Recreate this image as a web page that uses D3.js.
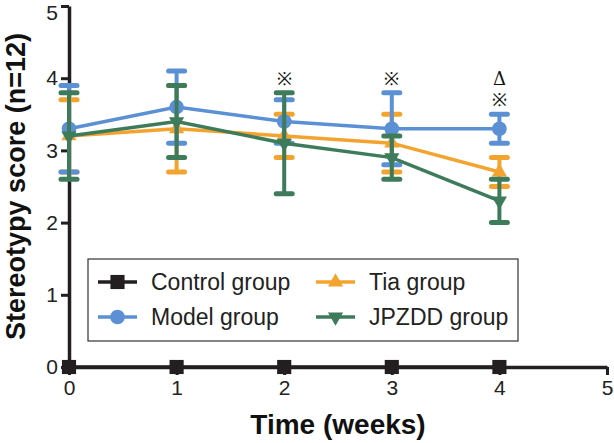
<!DOCTYPE html>
<html>
<head>
<meta charset="utf-8">
<script src="https://cdn.jsdelivr.net/npm/d3@7"></script>
<style>
  body { margin: 0; background: #fff; }
  svg { display: block; font-family: "Liberation Sans", Arial, sans-serif; }
</style>
</head>
<body>
<div id="chart"></div>
<script>
// data
const weeks = [0, 1, 2, 3, 4];
const controlMean = [0, 0, 0, 0, 0];
const modelMean = [3.3, 3.6, 3.4, 3.3, 3.3];
const modelSd = [0.6, 0.5, 0.3, 0.5, 0.2];
const tiaMean = [3.2, 3.3, 3.2, 3.1, 2.7];
const tiaSd = [0.5, 0.6, 0.3, 0.4, 0.2];
const jpzddMean = [3.2, 3.4, 3.1, 2.9, 2.3];
const jpzddSd = [0.6, 0.5, 0.7, 0.3, 0.3];
const xTicks = [0, 1, 2, 3, 4, 5];
const yTicks = [0, 1, 2, 3, 4, 5];
const marks = [
    { week: 2, y: 4.0, text: "※" },
    { week: 3, y: 4.0, text: "※" },
    { week: 4, y: 4.0, text: "Δ" },
    { week: 4, y: 3.7, text: "※" }
];

const width = 614;
const height = 443;
const marginLeft = 69;
const marginRight = 7;
const marginTop = 6;
const marginBottom = 76;

const x = d3.scaleLinear().domain([0, 5]).range([marginLeft, width - marginRight]);
const y = d3.scaleLinear().domain([0, 5]).range([height - marginBottom, marginTop]);

const svg = d3.select("#chart")
    .append("svg")
    .attr("width", width)
    .attr("height", height);

const series = [
    { name: "Control group", color: "#231f20", shape: "square", mean: controlMean, sd: null },
    { name: "Model group", color: "#5b91d4", shape: "circle", mean: modelMean, sd: modelSd },
    { name: "Tia group", color: "#f3a42f", shape: "up", mean: tiaMean, sd: tiaSd },
    { name: "JPZDD group", color: "#3e7b5b", shape: "down", mean: jpzddMean, sd: jpzddSd }
];

function symbolPath(shape) {
    if (shape === "square") return d3.symbol(d3.symbolSquare, 200)();
    if (shape === "circle") return d3.symbol(d3.symbolCircle, 170)();
    return d3.symbol(d3.symbolTriangle, 100)();
}

function drawMarker(g, s, cx, cy) {
    g.append("path")
        .attr("d", symbolPath(s.shape))
        .attr("transform", `translate(${cx},${cy})` + (s.shape === "down" ? " rotate(180)" : ""))
        .attr("fill", s.color);
}

// axes
const axisColor = "#231f20";
svg.append("g")
    .attr("transform", `translate(${marginLeft},0)`)
    .call(d3.axisLeft(y).tickValues(yTicks).tickFormat(d3.format("d")).tickSize(8).tickPadding(3).tickSizeOuter(0))
    .call(g => g.select(".domain").attr("stroke", axisColor).attr("stroke-width", 3.5))
    .call(g => g.selectAll(".tick line").attr("stroke", axisColor).attr("stroke-width", 3))
    .call(g => g.selectAll(".tick text").attr("fill", "#222").style("font-size", "21px"))
    // top label sits a little lower so it is not cut by the page edge
    .call(g => g.selectAll(".tick text").filter(d => d === 5).attr("dy", "0.62em"));

svg.append("g")
    .attr("transform", `translate(0,${y(0)})`)
    .call(d3.axisBottom(x).tickValues(xTicks).tickFormat(d3.format("d")).tickSize(8).tickPadding(5).tickSizeOuter(0))
    .call(g => g.select(".domain").attr("stroke", axisColor).attr("stroke-width", 3.5))
    .call(g => g.selectAll(".tick line").attr("stroke", axisColor).attr("stroke-width", 3))
    .call(g => g.selectAll(".tick text").attr("fill", "#222").style("font-size", "21px"));

// error bars, lines, markers (drawn back to front)
const line = d3.line().x((d, i) => x(weeks[i])).y(d => y(d));
const order = [series[2], series[1], series[3], series[0]];
order.forEach(s => {
    const g = svg.append("g");
    if (s.sd) {
        s.mean.forEach((m, i) => {
            const cx = x(weeks[i]);
            const lo = y(m - s.sd[i]);
            const hi = y(m + s.sd[i]);
            g.append("line").attr("x1", cx).attr("x2", cx).attr("y1", lo).attr("y2", hi)
                .attr("stroke", s.color).attr("stroke-width", 4);
            [lo, hi].forEach(yy => {
                g.append("line").attr("x1", cx - 8).attr("x2", cx + 8).attr("y1", yy).attr("y2", yy)
                    .attr("stroke", s.color).attr("stroke-width", 5).attr("stroke-linecap", "round");
            });
        });
    }
    g.append("path").datum(s.mean).attr("d", line)
        .attr("fill", "none").attr("stroke", s.color).attr("stroke-width", 3.5);
    s.mean.forEach((m, i) => drawMarker(g, s, x(weeks[i]), y(m)));
});

// significance marks
svg.append("g").selectAll("text")
    .data(marks)
    .join("text")
    .attr("x", d => x(d.week))
    .attr("y", d => y(d.y))
    .attr("text-anchor", "middle")
    .attr("dominant-baseline", "central")
    .style("font-family", "'DejaVu Serif', serif")
    .style("font-size", "18px")
    .attr("fill", "#111")
    .text(d => d.text);

// legend
const legend = svg.append("g");
legend.append("rect")
    .attr("x", 88).attr("y", 259).attr("width", 430).attr("height", 82)
    .attr("fill", "#fff").attr("stroke", "#333").attr("stroke-width", 1.2);
const legendPos = [
    { x: 98, y: 282 }, { x: 98, y: 317 }, { x: 316, y: 282 }, { x: 316, y: 317 }
];
series.forEach((s, i) => {
    const p = legendPos[i];
    legend.append("line").attr("x1", p.x).attr("x2", p.x + 39).attr("y1", p.y).attr("y2", p.y)
        .attr("stroke", s.color).attr("stroke-width", 3.5);
    drawMarker(legend, s, p.x + 19.5, p.y);
    legend.append("text")
        .attr("x", p.x + 53).attr("y", p.y)
        .attr("dominant-baseline", "central")
        .style("font-size", "23px")
        .attr("fill", "#222")
        .text(s.name);
});

// axis titles
svg.append("text")
    .attr("x", (x(0) + x(5)) / 2)
    .attr("y", 434)
    .attr("text-anchor", "middle")
    .style("font-size", "28px")
    .style("font-weight", "bold")
    .attr("fill", "#111")
    .text("Time (weeks)");

svg.append("text")
    .attr("transform", `translate(25,${(y(0) + y(5)) / 2}) rotate(-90)`)
    .attr("text-anchor", "middle")
    .style("font-size", "27px")
    .style("font-weight", "bold")
    .attr("fill", "#111")
    .text("Stereotypy score (n=12)");
</script>
</body>
</html>
